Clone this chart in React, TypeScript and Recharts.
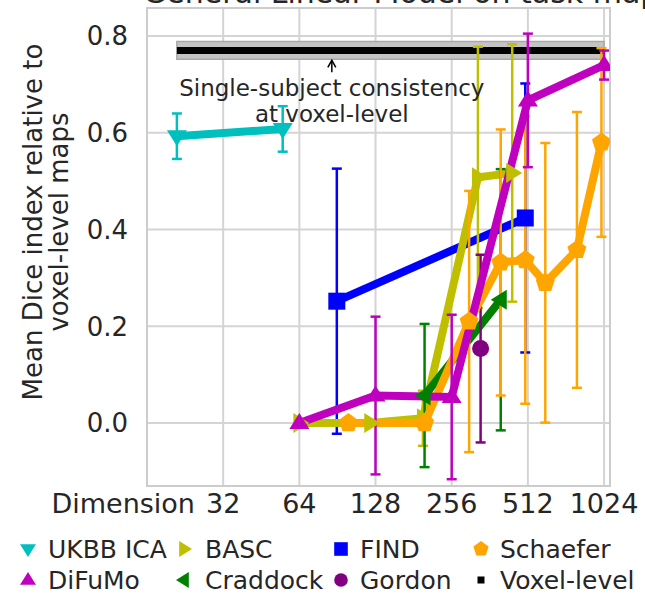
import React from "react";
import {
  ComposedChart,
  Line,
  XAxis,
  YAxis,
  CartesianGrid,
  ErrorBar,
  ReferenceArea,
  ReferenceDot,
} from "recharts";

// dimension ticks (log2 axis)
const dimTicks = [16, 32, 64, 128, 256, 512, 1024];
const yTicks = [0, 0.2, 0.4, 0.6, 0.8];

const ukbbDims = [21, 55];
const ukbbMean = [0.593, 0.608];
const ukbbErr = [0.047, 0.047];

const bascDims = [64, 122, 197, 325, 444];
const bascMean = [0.0, 0.0, 0.01, 0.508, 0.517];
const bascErr = [0, 0, 0.057, 0.27, 0.266];

const findDims = [90, 500];
const findMean = [0.252, 0.424];
const findErr = [0.274, 0.278];

const schaeferDims = [100, 200, 300, 400, 500, 600, 800, 1000];
const schaeferMean = [0.0, 0.0, 0.21, 0.332, 0.337, 0.29, 0.358, 0.58];
const schaeferErr = [0, 0, 0.27, 0.275, 0.297, 0.289, 0.285, 0.195];

const difumoDims = [64, 128, 256, 512, 1024];
const difumoMean = [0.0, 0.057, 0.054, 0.667, 0.74];
const difumoErr = [0, 0.163, 0.17, 0.138, 0.03];

const craddockDims = [200, 400];
const craddockMean = [0.057, 0.255];
const craddockErr = [0.148, 0.27];

const gordonDims = [333];
const gordonMean = [0.154];
const gordonErr = [0.194];

const voxelDims = [21, 1024];
const voxelMean = [0.77, 0.77];
const voxelLow = 0.752;
const voxelHigh = 0.789;

const FONT = "DejaVu Sans";
const TEXT = "#262626";

const toRows = (xs: number[], ys: number[], es?: number[]) =>
  xs.map((x, i) => ({ x, y: ys[i], err: es ? es[i] : 0 }));

type Shape = "down" | "up" | "right" | "left" | "square" | "pentagon" | "circle" | "small";

const Marker = ({ cx, cy, shape, color, r = 10 }: any) => {
  if (cx == null || cy == null) return null;
  switch (shape as Shape) {
    case "down":
      return <polygon points={`${cx - r},${cy - r * 0.6} ${cx + r},${cy - r * 0.6} ${cx},${cy + r}`} fill={color} />;
    case "up":
      return <polygon points={`${cx - r},${cy + r * 0.6} ${cx + r},${cy + r * 0.6} ${cx},${cy - r}`} fill={color} />;
    case "right":
      return <polygon points={`${cx - r * 0.6},${cy - r} ${cx - r * 0.6},${cy + r} ${cx + r},${cy}`} fill={color} />;
    case "left":
      return <polygon points={`${cx + r * 0.6},${cy - r} ${cx + r * 0.6},${cy + r} ${cx - r},${cy}`} fill={color} />;
    case "square":
      return <rect x={cx - r * 0.85} y={cy - r * 0.85} width={r * 1.7} height={r * 1.7} fill={color} />;
    case "small":
      return <rect x={cx - 3.5} y={cy - 3.5} width={7} height={7} fill={color} />;
    case "pentagon": {
      const pts = [0, 1, 2, 3, 4]
        .map((k) => {
          const a = -Math.PI / 2 + (k * 2 * Math.PI) / 5;
          return `${cx + r * Math.cos(a)},${cy + r * Math.sin(a)}`;
        })
        .join(" ");
      return <polygon points={pts} fill={color} />;
    }
    default:
      return <circle cx={cx} cy={cy} r={r * 0.85} fill={color} />;
  }
};

const series = [
  { name: "UKBB ICA", color: "#00bfbf", shape: "down", data: toRows(ukbbDims, ukbbMean, ukbbErr) },
  { name: "FIND", color: "#0000ff", shape: "square", data: toRows(findDims, findMean, findErr) },
  { name: "BASC", color: "#bfbf00", shape: "right", data: toRows(bascDims, bascMean, bascErr) },
  { name: "Craddock", color: "#008000", shape: "left", data: toRows(craddockDims, craddockMean, craddockErr) },
  { name: "Gordon", color: "#800080", shape: "circle", data: toRows(gordonDims, gordonMean, gordonErr) },
  { name: "Schaefer", color: "#ffa500", shape: "pentagon", data: toRows(schaeferDims, schaeferMean, schaeferErr) },
  { name: "DiFuMo", color: "#bf00bf", shape: "up", data: toRows(difumoDims, difumoMean, difumoErr) },
];

const legendItems = [
  { name: "UKBB ICA", color: "#00bfbf", shape: "down", col: 0, row: 0 },
  { name: "DiFuMo", color: "#bf00bf", shape: "up", col: 0, row: 1 },
  { name: "BASC", color: "#bfbf00", shape: "right", col: 1, row: 0 },
  { name: "Craddock", color: "#008000", shape: "left", col: 1, row: 1 },
  { name: "FIND", color: "#0000ff", shape: "square", col: 2, row: 0 },
  { name: "Gordon", color: "#800080", shape: "circle", col: 2, row: 1 },
  { name: "Schaefer", color: "#ffa500", shape: "pentagon", col: 3, row: 0 },
  { name: "Voxel-level", color: "#000000", shape: "small", col: 3, row: 1 },
];
const colMarkerX = [28, 184, 341, 481];
const colTextX = [48, 205, 360, 500];
const rowY = [549, 580];

const XTick = (p: any) => {
  const { x, y, payload } = p;
  const first = payload.value === 16;
  return (
    <text x={first ? x + 48 : x} y={y} dy={19} textAnchor={first ? "end" : "middle"} fontSize={27} fontFamily={FONT} fill={TEXT}>
      {first ? "Dimension" : String(payload.value)}
    </text>
  );
};

const Annotation = (p: any) => {
  const { cx, cy } = p;
  if (cx == null) return null;
  return (
    <g>
      <line x1={cx} y1={cy + 13} x2={cx} y2={cy + 1} stroke="#000" strokeWidth={1.5} />
      <path d={`M${cx - 4},${cy + 8} L${cx},${cy + 1} L${cx + 4},${cy + 8}`} fill="none" stroke="#000" strokeWidth={1.5} />
      <text x={cx} y={cy + 37} textAnchor="middle" fontSize={23} fontFamily={FONT} fill={TEXT}>
        Single-subject consistency
      </text>
      <text x={cx} y={cy + 63} textAnchor="middle" fontSize={23} fontFamily={FONT} fill={TEXT}>
        at voxel-level
      </text>
    </g>
  );
};

export default function App() {
  return (
    <div style={{ position: "absolute", left: 0, top: 0, width: 645, height: 597, background: "#fff" }}>
      <ComposedChart width={645} height={597} margin={{ top: 8, right: 35, bottom: 0, left: 0 }}>
        <CartesianGrid stroke="#d4d4d4" strokeWidth={2} />
        <ReferenceArea x1={16} x2={1081} y1={-0.13} y2={0.858} fill="none" stroke="#cccccc" strokeWidth={2} />
        <XAxis
          dataKey="x"
          type="number"
          scale="log"
          domain={[16, 1081]}
          allowDataOverflow
          ticks={dimTicks}
          tick={<XTick />}
          tickLine={false}
          axisLine={false}
          height={111}
        />
        <YAxis
          type="number"
          domain={[-0.13, 0.858]}
          allowDataOverflow
          ticks={yTicks}
          tickFormatter={(v: number) => v.toFixed(1)}
          tick={{ fontSize: 26, fontFamily: FONT, fill: TEXT }}
          tickLine={false}
          axisLine={false}
          tickMargin={13}
          width={147}
        />
        <ReferenceArea x1={voxelDims[0]} x2={voxelDims[1]} y1={voxelLow} y2={voxelHigh} fill="#c4c4c4" fillOpacity={1} stroke="#a8a8a8" strokeWidth={1.5} />
        <Line
          data={toRows(voxelDims, voxelMean)}
          dataKey="y"
          stroke="#000"
          strokeWidth={7}
          dot={false}
          isAnimationActive={false}
        />
        {series.map((s) => (
          <Line
            key={s.name}
            data={s.data}
            dataKey="y"
            name={s.name}
            type="linear"
            stroke={s.color}
            strokeWidth={8}
            isAnimationActive={false}
            dot={(p: any) => <Marker key={`${s.name}-${p.index}`} cx={p.cx} cy={p.cy} shape={s.shape} color={s.color} />}
          >
            <ErrorBar dataKey="err" direction="y" width={5} strokeWidth={2.5} stroke={s.color} />
          </Line>
        ))}
        <ReferenceDot x={86} y={voxelLow} r={0} shape={(p: any) => <Annotation {...p} />} />
      </ComposedChart>
      <svg width={645} height={597} style={{ position: "absolute", left: 0, top: 0, pointerEvents: "none" }}>
        <text x={143} y={3} fontSize={30} fontFamily={FONT} fill={TEXT}>
          General Linear Model on task maps
        </text>
        <text transform="translate(42,222) rotate(-90)" textAnchor="middle" fontSize={26} fontFamily={FONT} fill={TEXT}>
          Mean Dice index relative to
        </text>
        <text transform="translate(68,222) rotate(-90)" textAnchor="middle" fontSize={26} fontFamily={FONT} fill={TEXT}>
          voxel-level maps
        </text>
        {legendItems.map((it) => (
          <g key={it.name}>
            <Marker cx={colMarkerX[it.col]} cy={rowY[it.row]} shape={it.shape} color={it.color} r={8} />
            <text x={colTextX[it.col]} y={rowY[it.row] + 9} fontSize={25} fontFamily={FONT} fill={TEXT}>
              {it.name}
            </text>
          </g>
        ))}
      </svg>
    </div>
  );
}
